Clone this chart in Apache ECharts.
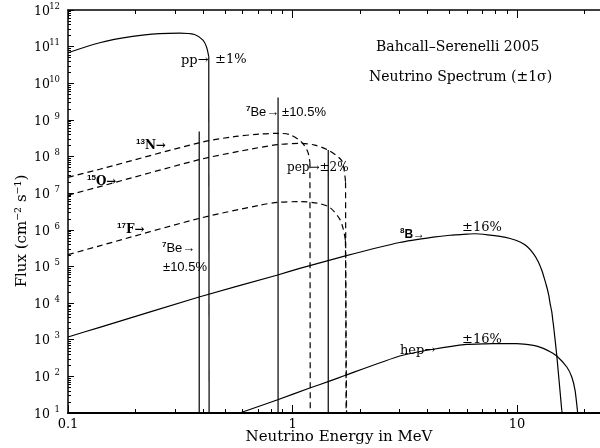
<!DOCTYPE html>
<html>
<head>
<meta charset="utf-8">
<script src="https://cdn.jsdelivr.net/npm/echarts@6/dist/echarts.min.js"></script>
<style>html,body{margin:0;padding:0;background:#fff}#c{width:600px;height:448px}</style>
</head>
<body>
<div id="c"></div>
<script>
// ---- Data ----
const ppE  = [0.1, 0.1384, 0.194, 0.256, 0.314, 0.366, 0.399, 0.4135, 0.4235, 0.425];
const ppF  = [6.8e10, 1.28e11, 1.9e11, 2.27e11, 2.35e11, 2.14e11, 1.5e11, 1.0e11, 5.3e10, 10];

const n13E = [0.1, 0.1384, 0.3834, 0.5416, 0.715, 0.859, 0.972, 1.095, 1.169, 1.195, 1.199];
const n13F = [2.7e7, 4.5e7, 2.37e8, 3.45e8, 4.1e8, 4.28e8, 3.96e8, 2.52e8, 1.34e8, 7e7, 10];

const o15E = [0.1, 0.1384, 0.3834, 0.5818, 0.859, 1.095, 1.256, 1.439, 1.65, 1.70, 1.722, 1.732];
const o15F = [8.8e6, 1.51e7, 8.2e7, 1.4e8, 2.11e8, 2.28e8, 2.05e8, 1.5e8, 8e7, 4e7, 2e7, 10];

const f17E = [0.1, 0.1384, 0.3834, 0.715, 0.859, 1.077, 1.295, 1.464, 1.623, 1.679, 1.72, 1.74];
const f17F = [2.1e5, 3.66e5, 2.04e6, 4.7e6, 5.6e6, 5.87e6, 5.3e6, 4.1e6, 1.95e6, 1.1e6, 5.2e5, 10];

const b8E  = [0.1, 0.1384, 0.3834, 0.859, 1.077, 1.72, 3.0, 4.23, 5.03, 5.97, 6.48, 7.4, 8.40, 9.31, 10.31, 11.05, 11.82, 12.44, 12.88, 13.23, 13.56, 13.84, 14.03, 14.28, 14.42, 14.51, 15.02, 15.81, 15.88];
const b8F  = [1.19e3, 2.18e3, 1.47e4, 5.86e4, 8.9e4, 1.94e5, 4.5e5, 6.3e5, 7.1e5, 7.6e5, 7.8e5, 7.3e5, 6.6e5, 5.78e5, 4.67e5, 3.56e5, 2.25e5, 1.33e5, 7.87e4, 4.67e4, 2.75e4, 1.63e4, 9.7e3, 5.7e3, 3.4e3, 2.6e3, 375, 11.8, 10];

const hepE = [0.582, 0.859, 1.193, 1.45, 1.72, 3.0, 4.23, 5.97, 7.2, 8.40, 9.94, 11.82, 13.0, 14.03, 15.02, 16.65, 17.52, 18.13, 18.56, 18.6];
const hepF = [10, 23, 48, 73, 107, 359, 550, 748, 775, 785, 785, 700, 590, 470, 359, 180, 96, 41, 12, 10];

// mono-energetic lines: [energy, flux]
const be7aLine = [0.384, 4.85e8];
const be7bLine = [0.862, 4.1e9];
const pepLine  = [1.442, 1.5e8];

// ticks
const xMajor = [0.1, 1, 10];
const xMinor = [0.2,0.3,0.4,0.5,0.6,0.7,0.8,0.9, 2,3,4,5,6,7,8,9, 20];
const yMajor = [1e1,1e2,1e3,1e4,1e5,1e6,1e7,1e8,1e9,1e10,1e11,1e12];
const yMinor = [];
for (let k = 1; k < 12; k++) for (let m = 2; m <= 9; m++) yMinor.push(m * Math.pow(10, k));

const X_MIN = 0.1, X_MAX = 23.4, Y_MIN = 10, Y_MAX = 1e12;

// ---- chart ----
const SERIF = 'DejaVu Serif';
const SANS = 'Liberation Sans';
const pts = (E, F) => E.map((e, i) => [e, F[i]]);
const vline = (l) => [[l[0], l[1]], [l[0], Y_MIN]];

const solid = { color: '#000', width: 1.2 };
const dashed = { color: '#000', width: 1.2, type: [6, 4] };

function lineSeries(name, data, style, smooth) {
  return { name, type: 'line', data, showSymbol: false, symbol: 'none', lineStyle: style, smooth: smooth || false,
           xAxisIndex: 0, yAxisIndex: 0, animation: false, silent: true, clip: true, z: 3 };
}
// spectrum body (optionally smoothed) + straight final drop to the axis
function spectrum(name, E, F, style, smooth) {
  const all = pts(E, F);
  const k = all.length - 1;
  return [
    lineSeries(name, all.slice(0, k), style, smooth),
    lineSeries(name + ' end', all.slice(k - 1), style, false)
  ];
}

function xAxisDef(pos, values, len, showLabel, showLine, lineW) {
  return {
    type: 'log', min: X_MIN, max: X_MAX, position: pos, logBase: 10,
    axisLine: { show: showLine, onZero: false, lineStyle: { color: '#000', width: lineW } },
    axisTick: { show: true, inside: true, length: len, customValues: values, lineStyle: { color: '#000', width: 1 } },
    axisLabel: { show: showLabel, customValues: values, color: '#000', fontFamily: SERIF, fontSize: 13, margin: 5,
                 formatter: v => (v >= 1 ? String(Math.round(v)) : String(v)) },
    splitLine: { show: false }, minorTick: { show: false }
  };
}
function yAxisDef(values, len, showLabel, showLine) {
  return {
    type: 'log', min: Y_MIN, max: Y_MAX, position: 'left', logBase: 10,
    axisLine: { show: showLine, onZero: false, lineStyle: { color: '#000', width: 1.5 } },
    axisTick: { show: true, inside: true, length: len, customValues: values, lineStyle: { color: '#000', width: 1 } },
    axisLabel: { show: showLabel, customValues: values, margin: 8,
      formatter: v => { const e = Math.round(Math.log10(v)); return '{b|10}{s|' + e + '}'; },
      rich: {
        b: { fontFamily: SERIF, fontSize: 12.5, color: '#000', lineHeight: 16, verticalAlign: 'bottom' },
        s: { fontFamily: SERIF, fontSize: 8.5, color: '#000', width: 10, align: 'right', verticalAlign: 'top', lineHeight: 16 }
      } },
    splitLine: { show: false }, minorTick: { show: false }
  };
}

// text with optional superscript prefix via rich text
function txt(x, y, text, font, align, supSize) {
  return { type: 'text', x, y, silent: true, z: 10,
    style: { text, font: font || ('13px ' + SERIF), fill: '#000', textAlign: align || 'left', textVerticalAlign: 'middle',
             rich: { s: { fontSize: supSize || 8, fontWeight: 'bold', verticalAlign: 'top', lineHeight: 14 },
                     m: { lineHeight: 14, verticalAlign: 'bottom' } } } };
}

const chart = echarts.init(document.getElementById('c'), null, { renderer: 'canvas' });
chart.setOption({
  backgroundColor: '#fff',
  animation: false,
  grid: { left: 68, right: 0, top: 10, bottom: 35 },
  xAxis: [
    xAxisDef('bottom', xMajor, 8, true, true, 2),
    xAxisDef('bottom', xMinor, 4, false, false, 1),
    xAxisDef('top', xMajor, 8, false, true, 1.5),
    xAxisDef('top', xMinor, 4, false, false, 1)
  ],
  yAxis: [
    yAxisDef(yMajor, 6, true, true),
    yAxisDef(yMinor, 3, false, false)
  ],
  series: [
    ...spectrum('pp', ppE, ppF, solid, 0.3),
    ...spectrum('13N', n13E, n13F, dashed, 0.3),
    ...spectrum('15O', o15E, o15F, dashed, 0.3),
    ...spectrum('17F', f17E, f17F, dashed, 0.3),
    ...spectrum('8B', b8E, b8F, solid, 0.15),
    ...spectrum('hep', hepE, hepF, solid, 0.15),
    lineSeries('7Be 0.384', vline(be7aLine), solid),
    lineSeries('7Be 0.862', vline(be7bLine), solid),
    lineSeries('pep', vline(pepLine), solid)
  ],
  graphic: [
    txt(376, 47, 'Bahcall–Serenelli 2005', '14px ' + SERIF),
    txt(369, 77, 'Neutrino Spectrum (±1σ)', '14px ' + SERIF),
    txt(181, 61, 'pp→'),
    txt(215, 60, '±1%'),
    txt(246, 112, '{s|7}{m|Be→}', '13px ' + SANS),
    txt(282, 112, '±10.5%', '13px ' + SANS),
    txt(136, 145, '{s|13}{m|N→}', 'bold 12px ' + SERIF),
    txt(287, 168, 'pep→±2%', '12px ' + SERIF),
    txt(87, 181, '{s|15}{m|O→}', 'bold 12px ' + SERIF),
    txt(117, 229, '{s|17}{m|F→}', 'bold 12px ' + SERIF),
    txt(162, 248, '{s|7}{m|Be→}', '13px ' + SANS),
    txt(163, 267, '±10.5%', '13px ' + SANS),
    txt(400, 234, '{s|8}{m|B→}', 'bold 12px ' + SANS),
    txt(462, 228, '±16%'),
    txt(400, 351, 'hep→'),
    txt(462, 340, '±16%'),
    txt(339, 437, 'Neutrino Energy in MeV', '15px ' + SERIF, 'center'),
    { type: 'text', x: 22, y: 231, rotation: Math.PI / 2, silent: true,
      style: { text: 'Flux (cm⁻² s⁻¹)', font: '15px ' + SERIF, fill: '#000', textAlign: 'center', textVerticalAlign: 'middle' } }
  ]
});
</script>
</body>
</html>
